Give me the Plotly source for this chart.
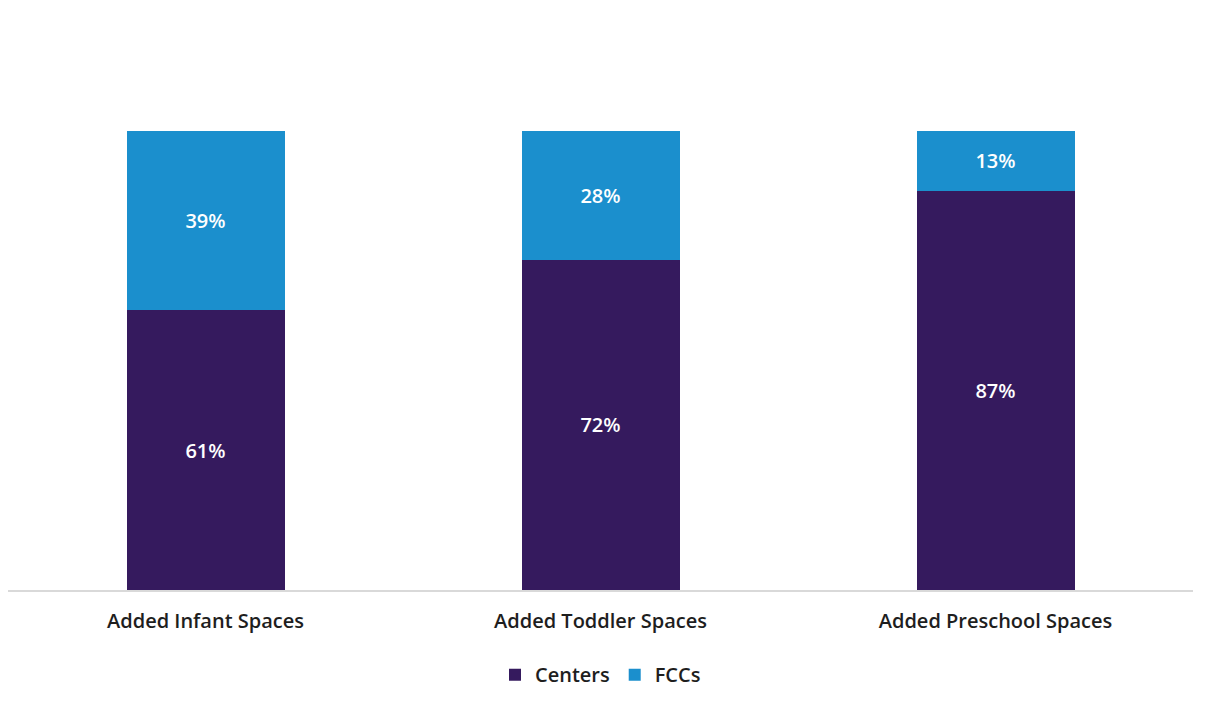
import plotly.graph_objects as go

categories = ["Added Infant Spaces", "Added Toddler Spaces", "Added Preschool Spaces"]
centers = [61, 72, 87]
fccs = [39, 28, 13]

CENTER_COLOR = "#351a5e"
FCC_COLOR = "#1b8fcd"
FONT = "Open Sans"
TEXT_COLOR = "#1e1e1e"

fig = go.Figure()
fig.add_trace(go.Bar(
    name="Centers", x=categories, y=centers, marker_color=CENTER_COLOR,
    marker_line_width=0,
    text=[f"{v}%" for v in centers], textposition="inside", insidetextanchor="middle",
    textfont=dict(color="white", size=20, family=FONT, weight=600),
))
fig.add_trace(go.Bar(
    name="FCCs", x=categories, y=fccs, marker_color=FCC_COLOR,
    marker_line_width=0,
    text=[f"{v}%" for v in fccs], textposition="inside", insidetextanchor="middle",
    textfont=dict(color="white", size=20, family=FONT, weight=600),
))

fig.update_layout(
    barmode="stack",
    bargap=0.6,
    width=1211, height=708,
    margin=dict(l=8, r=18, t=131, b=118),
    paper_bgcolor="white", plot_bgcolor="white",
    font=dict(family=FONT, color=TEXT_COLOR, size=20),
    uniformtext=dict(mode="show", minsize=20),
    xaxis=dict(
        showline=True, linecolor="#d9d9d9", linewidth=2,
        showgrid=False, ticks="", ticklabelstandoff=12,
        tickfont=dict(size=20, color=TEXT_COLOR, weight=600),
    ),
    yaxis=dict(range=[0, 100], visible=False, showgrid=False),
    legend=dict(
        orientation="h", x=0.5, xanchor="center", y=-0.142, yanchor="top",
        font=dict(size=20, color=TEXT_COLOR, weight=600), traceorder="normal",
        itemwidth=30,
    ),
)

fig.write_html("out.html")
